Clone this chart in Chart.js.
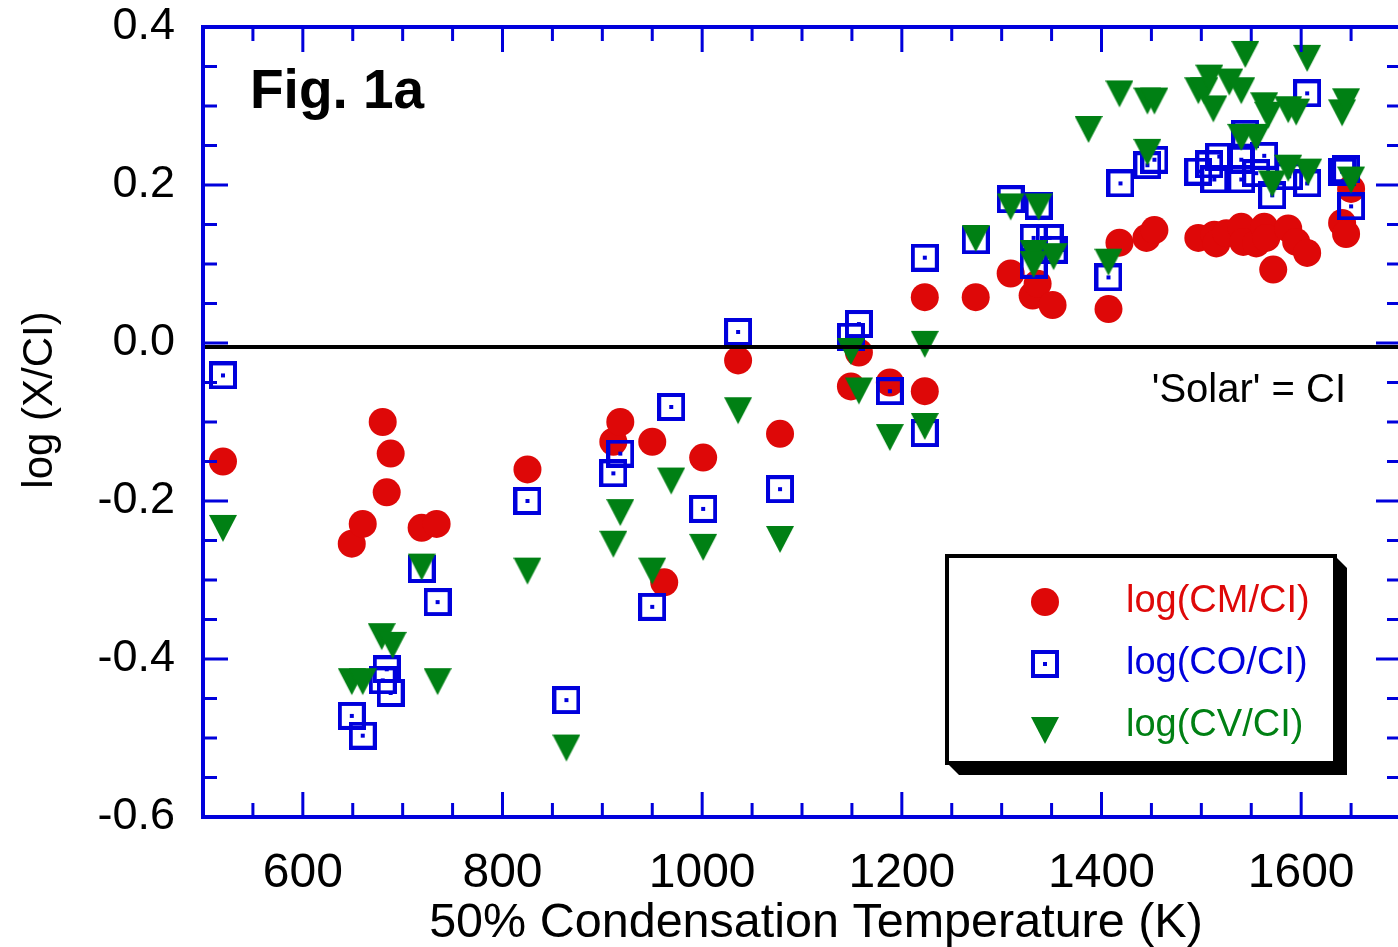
<!DOCTYPE html>
<html>
<head>
<meta charset="utf-8">
<script src="https://cdn.jsdelivr.net/npm/chart.js@4.4.1/dist/chart.umd.min.js"></script>
<style>
  html, body { margin: 0; padding: 0; background: #fff; overflow: hidden; }
  #wrap { width: 1416px; height: 947px; }
</style>
</head>
<body>
<div id="wrap"><canvas id="chart" width="1416" height="947"></canvas></div>
<script>
// log(CM/CI) - red circles
const cmTemps = [520, 649, 660, 680, 684, 688, 719, 734, 825, 911, 918, 950, 962, 1001, 1036, 1078,
    1149, 1157, 1188, 1223, 1223, 1274, 1309, 1331, 1336, 1351, 1407, 1418, 1445, 1453,
    1497, 1513, 1515, 1525, 1540, 1542, 1555, 1563, 1565, 1572, 1587, 1595, 1606, 1641, 1645, 1650]
const cmValues = [-0.150, -0.254, -0.229, -0.100, -0.189, -0.140, -0.234, -0.229, -0.160, -0.125, -0.100, -0.125, -0.303, -0.145, -0.022, -0.115,
    -0.055, -0.012, -0.050, -0.061, 0.058, 0.058, 0.088, 0.060, 0.075, 0.048, 0.043, 0.127, 0.133, 0.143,
    0.133, 0.137, 0.126, 0.139, 0.147, 0.128, 0.126, 0.147, 0.133, 0.093, 0.145, 0.128, 0.114, 0.152, 0.138, 0.195]

// log(CO/CI) - blue squares
const coTemps = [520, 649, 660, 680, 684, 688, 719, 735, 825, 864, 911, 918, 950, 969, 1001, 1036, 1078,
    1149, 1157, 1188, 1223, 1223, 1274, 1309, 1337, 1332, 1348, 1352, 1332, 1407, 1419, 1446, 1453,
    1497, 1508, 1513, 1518, 1540, 1540, 1544, 1555, 1563, 1571, 1588, 1606, 1606, 1641, 1645, 1650]
const coValues = [-0.041, -0.472, -0.497, -0.427, -0.413, -0.443, -0.286, -0.328, -0.200, -0.452, -0.165, -0.140, -0.334, -0.081, -0.210, 0.014, -0.185,
    0.008, 0.024, -0.061, -0.114, 0.108, 0.130, 0.182, 0.174, 0.133, 0.133, 0.118, 0.099, 0.083, 0.202, 0.225, 0.232,
    0.217, 0.226, 0.207, 0.236, 0.232, 0.207, 0.265, 0.215, 0.237, 0.187, 0.211, 0.202, 0.316, 0.217, 0.220, 0.173]

// log(CV/CI) - green triangles
const cvTemps = [520, 649, 660, 679, 690, 719, 735, 825, 864, 911, 918, 950, 969, 1001, 1036, 1078,
    1149, 1157, 1188, 1223, 1223, 1274, 1309, 1337, 1332, 1332, 1352, 1387, 1407, 1418, 1446, 1453, 1446,
    1497, 1503, 1508, 1512, 1528, 1540, 1544, 1540, 1555, 1563, 1567, 1571, 1587, 1587, 1595, 1606, 1607, 1641, 1645, 1650]
const cvValues = [-0.229, -0.423, -0.423, -0.366, -0.377, -0.278, -0.423, -0.283, -0.507, -0.249, -0.209, -0.283, -0.169, -0.253, -0.080, -0.243,
    -0.005, -0.055, -0.114, 0.004, -0.100, 0.138, 0.178, 0.178, 0.119, 0.105, 0.115, 0.276, 0.108, 0.321, 0.312, 0.312, 0.247,
    0.325, 0.325, 0.341, 0.302, 0.336, 0.325, 0.371, 0.266, 0.266, 0.306, 0.294, 0.207, 0.301, 0.227, 0.298, 0.366, 0.222, 0.297, 0.311, 0.212]

const xTicks = [600, 800, 1000, 1200, 1400, 1600]
const yTicks = [-0.6, -0.4, -0.2, 0.0, 0.2, 0.4]
const solarLine = -0.005

const seriesLabels = ['log(CM/CI)', 'log(CO/CI)', 'log(CV/CI)']
const red = 'rgb(222,8,8)'
const blue = 'rgb(0,0,220)'
const green = 'rgb(0,128,20)'
const fontFamily = '"Liberation Sans", Arial, sans-serif'

function toPoints(xs, ys) {
    return xs.map((x, i) => ({ x: x, y: ys[i] }))
}

// open square with a dot in the middle
const squareImg = document.createElement('canvas')
squareImg.width = 28
squareImg.height = 28
const sctx = squareImg.getContext('2d')
sctx.strokeStyle = blue
sctx.lineWidth = 4
sctx.strokeRect(2, 2, 24, 24)
sctx.fillStyle = blue
sctx.fillRect(12, 12, 4, 4)

// downward triangle, canvas centre sits on the triangle's centroid
const triImg = document.createElement('canvas')
triImg.width = 28
triImg.height = 38
const tctx = triImg.getContext('2d')
tctx.fillStyle = green
tctx.beginPath()
tctx.moveTo(0, 10)
tctx.lineTo(28, 10)
tctx.lineTo(14, 37)
tctx.closePath()
tctx.fill()

const framePlugin = {
    id: 'frame',
    afterDatasetsDraw(chart) {
        const ctx = chart.ctx
        const a = chart.chartArea
        const xs = chart.scales.x
        const ys = chart.scales.y
        ctx.save()

        // 'Solar' reference line
        const yl = ys.getPixelForValue(solarLine)
        ctx.strokeStyle = '#000'
        ctx.lineWidth = 4
        ctx.beginPath()
        ctx.moveTo(a.left, yl)
        ctx.lineTo(a.right, yl)
        ctx.stroke()

        // box
        ctx.strokeStyle = blue
        ctx.lineWidth = 4
        ctx.strokeRect(a.left, a.top, a.right - a.left, a.bottom - a.top)

        // inward ticks on all four sides
        ctx.lineWidth = 3
        ctx.beginPath()
        for (let v = 500; v <= 1700; v += 50) {
            const px = xs.getPixelForValue(v)
            const len = (v - 600) % 200 === 0 ? 25 : 14
            ctx.moveTo(px, a.bottom); ctx.lineTo(px, a.bottom - len)
            ctx.moveTo(px, a.top); ctx.lineTo(px, a.top + len)
        }
        for (let i = 0; i <= 20; i++) {
            const py = ys.getPixelForValue(-0.6 + i * 0.05)
            const len = i % 4 === 0 ? 25 : 14
            ctx.moveTo(a.left, py); ctx.lineTo(a.left + len, py)
            ctx.moveTo(a.right, py); ctx.lineTo(a.right - len, py)
        }
        ctx.stroke()
        ctx.restore()
    },
    afterDraw(chart) {
        const ctx = chart.ctx
        ctx.save()
        ctx.fillStyle = '#000'

        // axis titles
        ctx.font = '48.5px ' + fontFamily
        ctx.textAlign = 'center'
        ctx.textBaseline = 'alphabetic'
        ctx.fillText('50% Condensation Temperature (K)', 816, 937)
        ctx.save()
        ctx.translate(40, 400)
        ctx.rotate(-Math.PI / 2)
        ctx.font = '42px ' + fontFamily
        ctx.textBaseline = 'middle'
        ctx.fillText('log (X/CI)', 0, 0)
        ctx.restore()

        // annotations
        ctx.textAlign = 'left'
        ctx.font = 'bold 55px ' + fontFamily
        ctx.fillText('Fig. 1a', 250, 108)
        ctx.textAlign = 'right'
        ctx.font = '40px ' + fontFamily
        ctx.fillText("'Solar' = CI", 1346, 402)

        // legend with shadow
        const x0 = 947, y0 = 556, x1 = 1335, y1 = 763, off = 12
        ctx.fillStyle = '#000'
        ctx.beginPath()
        ctx.moveTo(x1, y0)
        ctx.lineTo(x1 + off, y0 + off)
        ctx.lineTo(x1 + off, y1 + off)
        ctx.lineTo(x0 + off, y1 + off)
        ctx.lineTo(x0, y1)
        ctx.closePath()
        ctx.fill()
        ctx.fillStyle = '#fff'
        ctx.fillRect(x0, y0, x1 - x0, y1 - y0)
        ctx.strokeStyle = '#000'
        ctx.lineWidth = 4
        ctx.strokeRect(x0, y0, x1 - x0, y1 - y0)

        const rows = [602, 664, 726]
        const colors = [red, blue, green]
        ctx.fillStyle = red
        ctx.beginPath()
        ctx.arc(1045, rows[0], 14, 0, Math.PI * 2)
        ctx.fill()
        ctx.drawImage(squareImg, 1045 - 14, rows[1] - 14)
        ctx.drawImage(triImg, 1045 - 14, rows[2] - 19)

        ctx.textAlign = 'left'
        ctx.textBaseline = 'middle'
        ctx.font = '38px ' + fontFamily
        seriesLabels.forEach((label, i) => {
            ctx.fillStyle = colors[i]
            ctx.fillText(label, 1126, rows[i])
        })
        ctx.restore()
    }
}

const ctx = document.getElementById('chart').getContext('2d')
const myChart = new Chart(ctx, {
    type: 'scatter',
    data: {
        datasets: [{
            label: seriesLabels[0],
            data: toPoints(cmTemps, cmValues),
            pointStyle: 'circle',
            pointRadius: 14,
            pointBackgroundColor: red,
            pointBorderWidth: 0,
            order: 3
        }, {
            label: seriesLabels[1],
            data: toPoints(coTemps, coValues),
            pointStyle: squareImg,
            pointRadius: 14,
            order: 2
        }, {
            label: seriesLabels[2],
            data: toPoints(cvTemps, cvValues),
            pointStyle: triImg,
            pointRadius: 14,
            order: 1
        }]
    },
    options: {
        responsive: false,
        animation: false,
        events: [],
        layout: { padding: { top: 0, right: 5, left: 0, bottom: 0 } },
        plugins: {
            legend: { display: false },
            tooltip: { enabled: false }
        },
        scales: {
            x: {
                type: 'linear',
                min: 500,
                max: 1700,
                grid: { display: false, drawTicks: false },
                border: { display: false },
                ticks: {
                    color: '#000',
                    font: { family: fontFamily, size: 48 },
                    padding: 28,
                    maxRotation: 0,
                    autoSkip: false,
                    callback: (v) => String(v)
                },
                afterBuildTicks: (scale) => { scale.ticks = xTicks.map(v => ({ value: v })) },
                afterFit: (scale) => { scale.height = 130 }
            },
            y: {
                type: 'linear',
                min: -0.6,
                max: 0.4,
                // gap between labels and axis comes from the (hidden) tick length,
                // so it is not added above the chart area
                grid: { display: false, drawTicks: true, tickLength: 28 },
                border: { display: false },
                ticks: {
                    color: '#000',
                    font: { family: fontFamily, size: 45 },
                    padding: 0,
                    autoSkip: false,
                    callback: (v) => v.toFixed(1)
                },
                afterBuildTicks: (scale) => { scale.ticks = yTicks.map(v => ({ value: v })) },
                afterFit: (scale) => { scale.width = 203 }
            }
        }
    },
    plugins: [framePlugin]
})
</script>
</body>
</html>
